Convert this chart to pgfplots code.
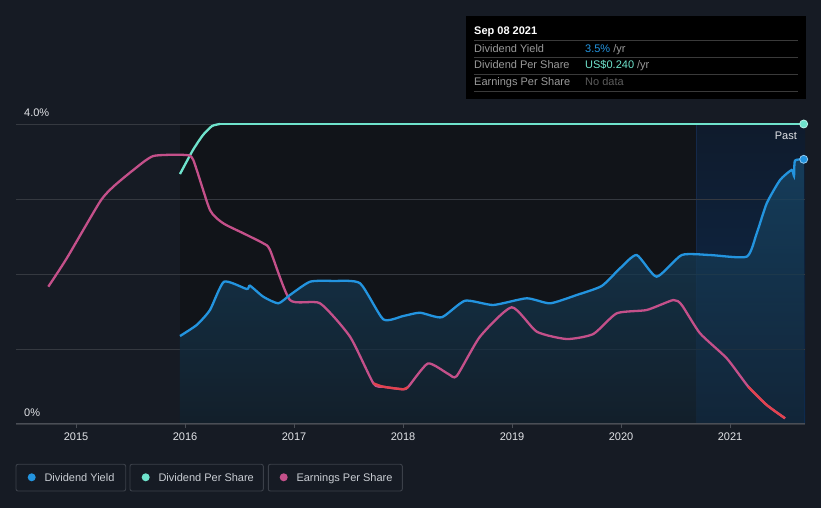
\documentclass[border=0pt]{standalone}
\usepackage{pgfplots}
\pgfplotsset{compat=1.18}
\usepackage{fontspec}
\setmainfont{Liberation Sans}
\definecolor{bg}{HTML}{161B24}
\definecolor{darkbg}{HTML}{111419}
\definecolor{pasttop}{HTML}{0F1B2C}
\definecolor{pastbot}{HTML}{0D2B50}
\definecolor{pastline}{HTML}{14294A}
\definecolor{gridc}{HTML}{353940}
\definecolor{axisc}{HTML}{4A4E56}
\definecolor{dy}{HTML}{2394DF}
\definecolor{dps}{HTML}{6FE3CC}
\definecolor{eps}{HTML}{C4508A}
\definecolor{epsneg}{HTML}{E2434F}
\definecolor{legtext}{HTML}{C9CDD3}
\definecolor{legbox}{HTML}{3B4049}
\definecolor{ttgray}{HTML}{9A9A9A}
\definecolor{ttline}{HTML}{3A3A3A}
\definecolor{nodata}{HTML}{5C5C5C}
\definecolor{ticktext}{HTML}{E2E4E8}

\pgfplotstableread{
x y
2015.954 1.173
2016.107 1.320
2016.229 1.520
2016.358 1.897
2016.566 1.800
2016.596 1.844
2016.718 1.697
2016.856 1.609
2016.963 1.720
2017.147 1.897
2017.361 1.907
2017.606 1.876
2017.819 1.396
2018.003 1.440
2018.156 1.484
2018.355 1.423
2018.569 1.644
2018.828 1.587
2019.135 1.676
2019.349 1.609
2019.594 1.720
2019.823 1.840
2019.991 2.076
2020.144 2.253
2020.327 1.964
2020.557 2.253
2020.817 2.253
2021.153 2.231
2021.245 2.543
2021.337 2.943
2021.459 3.253
2021.566 3.387
2021.587 3.307
2021.596 3.511
2021.676 3.529
}\dyield

\pgfplotstableread{
x y
2015.954 3.333
2016.073 3.653
2016.165 3.853
2016.248 3.973
2016.321 4.000
}\dpsrise

\pgfplotstableread{
x y
2016.321 4.000
2021.676 4.000
}\dpsflat

\pgfplotstableread{
x y
2014.746 1.831
2014.915 2.209
2015.220 2.964
2015.342 3.164
2015.526 3.387
2015.709 3.573
2016.000 3.587
2016.076 3.520
2016.229 2.853
2016.351 2.676
2016.535 2.543
2016.718 2.409
2016.780 2.320
2016.963 1.653
2017.239 1.609
2017.514 1.164
2017.728 0.543
2017.819 0.497
2018.003 0.463
2018.049 0.497
2018.229 0.807
2018.416 0.667
2018.493 0.640
2018.706 1.164
2018.997 1.556
2019.227 1.231
2019.502 1.133
2019.746 1.200
2019.961 1.476
2020.236 1.520
2020.480 1.653
2020.557 1.587
2020.725 1.209
2020.970 0.876
2021.168 0.497
2021.337 0.253
2021.505 0.076
}\eps

\pgfplotstableread{
x y
2017.728 0.543
2017.819 0.497
2018.003 0.463
2018.049 0.497
}\epsredA

\pgfplotstableread{
x y
2021.168 0.497
2021.337 0.253
2021.505 0.076
}\epsredB

\begin{document}
\begin{tikzpicture}[x=1pt,y=1pt]
\fill[bg] (0,0) rectangle (821,508);
\useasboundingbox (0,0) rectangle (821,508);
% chart regions
\fill[darkbg] (180,84) rectangle (696,384);
\shade[top color=pasttop, bottom color=pastbot] (696,84) rectangle (805,384);
\draw[pastline, line width=0.8pt] (696,84) -- (696,384);
\begin{axis}[
  at={(16pt,84pt)}, anchor=south west,
  scale only axis, width=789pt, height=300pt,
  xmin=2014.4495, xmax=2021.688, ymin=0, ymax=4,
  axis line style={draw=none},
  ymajorgrids, grid style={gridc, line width=0.9pt},
  xtick={2015,2016,2017,2018,2019,2020,2021},
  xticklabels={2015,2016,2017,2018,2019,2020,2021},
  xtick pos=bottom, tick align=outside,
  major tick length=4pt,
  xtick style={axisc, line width=0.9pt},
  ytick={0,1,2,3,4},
  yticklabels={0\%,,,,4.0\%},
  ytick style={draw=none},
  xticklabel style={font=\fontsize{11}{13}\selectfont, text=ticktext, yshift=-1pt},
  yticklabel style={font=\fontsize{11}{13}\selectfont, text=ticktext, anchor=south west, inner sep=0pt, xshift=12pt, yshift=7pt},
  clip=false,
]
\addplot[draw=none, top color=dy!40!darkbg, bottom color=dy!12!darkbg, fill opacity=0.75, smooth, tension=0.35] table[x=x,y=y] {\dyield} \closedcycle;
\addplot[dps, line width=2.3pt, smooth, tension=0.35] table[x=x,y=y] {\dpsrise};
\addplot[dps, line width=2.3pt] table[x=x,y=y] {\dpsflat};
\addplot[eps, line width=2.3pt, smooth, tension=0.35] table[x=x,y=y] {\eps};
\addplot[epsneg, line width=2.3pt, smooth, tension=0.35] table[x=x,y=y] {\epsredA};
\addplot[epsneg, line width=2.3pt, smooth, tension=0.35] table[x=x,y=y] {\epsredB};
\addplot[dy, line width=2.3pt, smooth, tension=0.35] table[x=x,y=y] {\dyield};
\addplot[only marks, mark=*, mark size=4pt, mark options={fill=dps, draw=dps!50!white, line width=0.8pt}] coordinates {(2021.676,4.000)};
\addplot[only marks, mark=*, mark size=4pt, mark options={fill=dy, draw=dy!50!white, line width=0.8pt}] coordinates {(2021.676,3.529)};
\end{axis}
\draw[axisc, line width=1pt] (16,84) -- (805,84);
% Past label
\node[anchor=base east, inner sep=0pt, text=ticktext, font=\fontsize{11}{13}\selectfont] at (797,368) {Past};
% tooltip
\fill[black] (466,408.7) rectangle (805.7,492.3);
\node[anchor=base west, inner sep=0pt, text=white, font=\bfseries\fontsize{11}{13}\selectfont] at (474,473) {Sep 08 2021};
\foreach \yy in {467.7,450.7,433.7,417} {\draw[ttline, line width=0.8pt] (474,\yy) -- (797.7,\yy);}
\node[anchor=base west, inner sep=0pt, text=ttgray, font=\fontsize{11}{13}\selectfont] at (474,455.7) {Dividend Yield};
\node[anchor=base west, inner sep=0pt, text=ttgray, font=\fontsize{11}{13}\selectfont] at (474,439) {Dividend Per Share};
\node[anchor=base west, inner sep=0pt, text=ttgray, font=\fontsize{11}{13}\selectfont] at (474,422) {Earnings Per Share};
\node[anchor=base west, inner sep=0pt, text=ttgray, font=\fontsize{11}{13}\selectfont] at (585,455.7) {{\color{dy}3.5\%} /yr};
\node[anchor=base west, inner sep=0pt, text=ttgray, font=\fontsize{11}{13}\selectfont] at (585,439) {{\color{dps}US\$0.240} /yr};
\node[anchor=base west, inner sep=0pt, text=nodata, font=\fontsize{11}{13}\selectfont] at (585,422) {No data};
% legend
\draw[legbox, line width=0.9pt, rounded corners=2pt] (16,17) rectangle (125.7,43.7);
\draw[legbox, line width=0.9pt, rounded corners=2pt] (130,17) rectangle (263.3,43.7);
\draw[legbox, line width=0.9pt, rounded corners=2pt] (268.3,17) rectangle (402.3,43.7);
\fill[dy] (31.7,30.7) circle (4);
\fill[dps] (145.7,30.7) circle (4);
\fill[eps] (283.7,30.7) circle (4);
\node[anchor=base west, inner sep=0pt, text=legtext, font=\fontsize{11}{13}\selectfont] at (44.3,26.7) {Dividend Yield};
\node[anchor=base west, inner sep=0pt, text=legtext, font=\fontsize{11}{13}\selectfont] at (158.3,26.7) {Dividend Per Share};
\node[anchor=base west, inner sep=0pt, text=legtext, font=\fontsize{11}{13}\selectfont] at (296.3,26.7) {Earnings Per Share};
\end{tikzpicture}
\end{document}
